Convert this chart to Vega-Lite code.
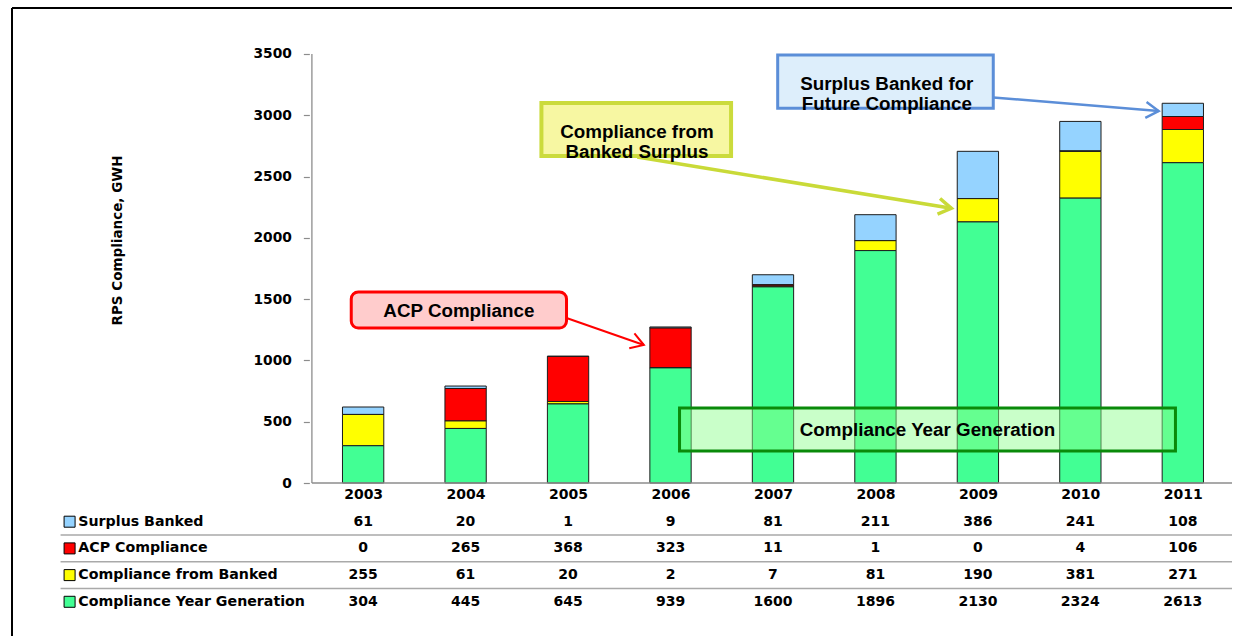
{
  "$schema": "https://vega.github.io/schema/vega-lite/v6.json",
  "width": 1230,
  "height": 628,
  "padding": {"left": 7, "top": 7, "right": 0, "bottom": 0},
  "background": "#ffffff",
  "config": {
    "view": {"stroke": null, "fill": null},
    "axis": {"grid": false, "domain": false, "ticks": false, "labels": false}
  },
  "data": {"values": [{}]},
  "datasets": {
    "compliance": [
      {"year": 2003, "series": "Surplus Banked", "gwh": 61},
      {"year": 2003, "series": "ACP Compliance", "gwh": 0},
      {"year": 2003, "series": "Compliance from Banked", "gwh": 255},
      {"year": 2003, "series": "Compliance Year Generation", "gwh": 304},
      {"year": 2004, "series": "Surplus Banked", "gwh": 20},
      {"year": 2004, "series": "ACP Compliance", "gwh": 265},
      {"year": 2004, "series": "Compliance from Banked", "gwh": 61},
      {"year": 2004, "series": "Compliance Year Generation", "gwh": 445},
      {"year": 2005, "series": "Surplus Banked", "gwh": 1},
      {"year": 2005, "series": "ACP Compliance", "gwh": 368},
      {"year": 2005, "series": "Compliance from Banked", "gwh": 20},
      {"year": 2005, "series": "Compliance Year Generation", "gwh": 645},
      {"year": 2006, "series": "Surplus Banked", "gwh": 9},
      {"year": 2006, "series": "ACP Compliance", "gwh": 323},
      {"year": 2006, "series": "Compliance from Banked", "gwh": 2},
      {"year": 2006, "series": "Compliance Year Generation", "gwh": 939},
      {"year": 2007, "series": "Surplus Banked", "gwh": 81},
      {"year": 2007, "series": "ACP Compliance", "gwh": 11},
      {"year": 2007, "series": "Compliance from Banked", "gwh": 7},
      {"year": 2007, "series": "Compliance Year Generation", "gwh": 1600},
      {"year": 2008, "series": "Surplus Banked", "gwh": 211},
      {"year": 2008, "series": "ACP Compliance", "gwh": 1},
      {"year": 2008, "series": "Compliance from Banked", "gwh": 81},
      {"year": 2008, "series": "Compliance Year Generation", "gwh": 1896},
      {"year": 2009, "series": "Surplus Banked", "gwh": 386},
      {"year": 2009, "series": "ACP Compliance", "gwh": 0},
      {"year": 2009, "series": "Compliance from Banked", "gwh": 190},
      {"year": 2009, "series": "Compliance Year Generation", "gwh": 2130},
      {"year": 2010, "series": "Surplus Banked", "gwh": 241},
      {"year": 2010, "series": "ACP Compliance", "gwh": 4},
      {"year": 2010, "series": "Compliance from Banked", "gwh": 381},
      {"year": 2010, "series": "Compliance Year Generation", "gwh": 2324},
      {"year": 2011, "series": "Surplus Banked", "gwh": 108},
      {"year": 2011, "series": "ACP Compliance", "gwh": 106},
      {"year": 2011, "series": "Compliance from Banked", "gwh": 271},
      {"year": 2011, "series": "Compliance Year Generation", "gwh": 2613}
    ]
  },
  "layer": [
    {
      "data": {"name": "compliance"},
      "transform": [{"window": [{"op": "row_number", "as": "table_row"}], "groupby": ["year"]}],
      "mark": {"type": "bar", "width": 41.3, "stroke": "#1c1c1c", "strokeWidth": 1},
      "encoding": {
        "x": {
          "field": "year", "type": "quantitative",
          "scale": {"domain": [1999.573, 2011.48], "nice": false, "zero": false},
          "axis": {
            "orient": "bottom", "offset": -153,
            "values": [2003, 2004, 2005, 2006, 2007, 2008, 2009, 2010, 2011], "format": "d",
            "domain": false, "ticks": false, "labels": true, "tickSize": 0, "grid": false, "labelFlush": false,
            "labelFont": "DejaVu Sans", "labelFontWeight": "bold", "labelFontSize": 14, "labelColor": "#000000", "labelPadding": 4,
            "title": null
          }
        },
        "y": {
          "field": "gwh", "type": "quantitative", "stack": "zero",
          "scale": {"domain": [-1248.25, 3875.29], "nice": false, "zero": false},
          "axis": {
            "orient": "left", "offset": -302.35,
            "values": [0, 500, 1000, 1500, 2000, 2500, 3000, 3500], "format": "d",
            "domain": false, "grid": false, "labels": true,
            "ticks": true, "tickSize": 6, "tickColor": "#8c8c8c", "tickWidth": 1.2,
            "labelFont": "DejaVu Sans", "labelFontWeight": "bold", "labelFontSize": 13.8, "labelColor": "#000000", "labelPadding": 12,
            "title": "RPS Compliance, GWH",
            "titleFont": "DejaVu Sans", "titleFontWeight": "bold", "titleFontSize": 13.5, "titleColor": "#000000",
            "titleX": -192.35, "titleY": 232, "titleAngle": -90, "titleAlign": "center", "titleBaseline": "middle"
          }
        },
        "color": {
          "field": "series", "type": "nominal",
          "scale": {
            "domain": ["Compliance Year Generation", "Compliance from Banked", "ACP Compliance", "Surplus Banked"],
            "range": ["#42FF94", "#FFFF00", "#FF0000", "#95D3FF"]
          },
          "legend": null
        },
        "order": {"field": "table_row", "type": "quantitative", "sort": "descending"}
      }
    },
    {
      "mark": {"type": "rule", "color": "#000000", "strokeWidth": 2},
      "encoding": {
        "x": {"datum": 1999.573, "type": "quantitative"},
        "x2": {"datum": 2011.48},
        "y": {"datum": 3875.29, "type": "quantitative"}
      }
    },
    {
      "mark": {"type": "rule", "color": "#000000", "strokeWidth": 2},
      "encoding": {
        "x": {"datum": 1999.573, "type": "quantitative"},
        "y": {"datum": -1248.25, "type": "quantitative"},
        "y2": {"datum": 3875.29}
      }
    },
    {
      "mark": {"type": "rule", "color": "#8c8c8c", "strokeWidth": 1.3},
      "encoding": {
        "x": {"datum": 2002.5, "type": "quantitative"},
        "y": {"datum": 0, "type": "quantitative"},
        "y2": {"datum": 3500}
      }
    },
    {
      "mark": {"type": "rule", "color": "#8c8c8c", "strokeWidth": 1.3},
      "encoding": {
        "x": {"datum": 2002.5, "type": "quantitative"},
        "x2": {"datum": 2011.48},
        "y": {"datum": 0, "type": "quantitative"}
      }
    },
    {
      "mark": {"type": "rect", "fill": "#8CFF8C", "fillOpacity": 0.47, "stroke": "#0A8A0A", "strokeWidth": 3},
      "encoding": {
        "x": {"datum": 2006.088, "type": "quantitative"},
        "x2": {"datum": 2010.928},
        "y": {"datum": 611.9, "type": "quantitative"},
        "y2": {"datum": 261.1}
      }
    },
    {
      "mark": {"type": "text", "text": "Compliance Year Generation", "font": "Liberation Sans", "fontWeight": "bold", "fontSize": 18.8, "color": "#000000", "align": "center", "baseline": "middle"},
      "encoding": {
        "x": {"datum": 2008.508, "type": "quantitative"},
        "y": {"datum": 432.4, "type": "quantitative"}
      }
    },
    {
      "mark": {"type": "rule", "color": "#FF0000", "strokeWidth": 2},
      "encoding": {
        "x": {"datum": 2004.985, "type": "quantitative"},
        "y": {"datum": 1346.2, "type": "quantitative"},
        "x2": {"datum": 2005.74},
        "y2": {"datum": 1125.9}
      }
    },
    {
      "mark": {"type": "point", "shape": "M-1,-0.62L0,0L-1,0.62", "size": 650, "angle": 19.1, "filled": false, "stroke": "#FF0000", "strokeWidth": 2, "opacity": 1},
      "encoding": {
        "x": {"datum": 2005.74, "type": "quantitative"},
        "y": {"datum": 1125.9, "type": "quantitative"}
      }
    },
    {
      "mark": {"type": "rect", "fill": "#FFCCCC", "stroke": "#FF0000", "strokeWidth": 3, "cornerRadius": 7},
      "encoding": {
        "x": {"datum": 2002.884, "type": "quantitative"},
        "x2": {"datum": 2004.985},
        "y": {"datum": 1558.3, "type": "quantitative"},
        "y2": {"datum": 1264.6}
      }
    },
    {
      "mark": {"type": "text", "text": "ACP Compliance", "font": "Liberation Sans", "fontWeight": "bold", "fontSize": 18.8, "color": "#000000", "align": "center", "baseline": "middle"},
      "encoding": {
        "x": {"datum": 2003.934, "type": "quantitative"},
        "y": {"datum": 1407.3, "type": "quantitative"}
      }
    },
    {
      "mark": {"type": "rule", "color": "#C9DA38", "strokeWidth": 3.5},
      "encoding": {
        "x": {"datum": 2005.675, "type": "quantitative"},
        "y": {"datum": 2659.7, "type": "quantitative"},
        "x2": {"datum": 2008.741},
        "y2": {"datum": 2241.1}
      }
    },
    {
      "mark": {"type": "point", "shape": "M-1,-0.62L0,0L-1,0.62", "size": 650, "angle": 9.2, "filled": false, "stroke": "#C9DA38", "strokeWidth": 3.5, "opacity": 1},
      "encoding": {
        "x": {"datum": 2008.741, "type": "quantitative"},
        "y": {"datum": 2241.1, "type": "quantitative"}
      }
    },
    {
      "mark": {"type": "rect", "fill": "#F7F7A2", "stroke": "#CBDB3C", "strokeWidth": 4},
      "encoding": {
        "x": {"datum": 2004.74, "type": "quantitative"},
        "x2": {"datum": 2006.591},
        "y": {"datum": 3100.2, "type": "quantitative"},
        "y2": {"datum": 2667.8}
      }
    },
    {
      "mark": {"type": "text", "text": "Compliance from\nBanked Surplus", "lineBreak": "\n", "lineHeight": 20, "font": "Liberation Sans", "fontWeight": "bold", "fontSize": 18.8, "color": "#000000", "align": "center", "baseline": "middle"},
      "encoding": {
        "x": {"datum": 2005.672, "type": "quantitative"},
        "y": {"datum": 2863.6, "type": "quantitative"}
      }
    },
    {
      "mark": {"type": "rule", "color": "#5B8ED8", "strokeWidth": 2.5},
      "encoding": {
        "x": {"datum": 2009.15, "type": "quantitative"},
        "y": {"datum": 3145.1, "type": "quantitative"},
        "x2": {"datum": 2010.764},
        "y2": {"datum": 3034.97}
      }
    },
    {
      "mark": {"type": "point", "shape": "M-1,-0.62L0,0L-1,0.62", "size": 650, "angle": 4.6, "filled": false, "stroke": "#5B8ED8", "strokeWidth": 2.5, "opacity": 1},
      "encoding": {
        "x": {"datum": 2010.764, "type": "quantitative"},
        "y": {"datum": 3034.97, "type": "quantitative"}
      }
    },
    {
      "mark": {"type": "rect", "fill": "#DDEEFB", "stroke": "#5B8ED8", "strokeWidth": 3},
      "encoding": {
        "x": {"datum": 2007.046, "type": "quantitative"},
        "x2": {"datum": 2009.15},
        "y": {"datum": 3491.8, "type": "quantitative"},
        "y2": {"datum": 3057.0}
      }
    },
    {
      "mark": {"type": "text", "text": "Surplus Banked for\nFuture Compliance", "lineBreak": "\n", "lineHeight": 20, "font": "Liberation Sans", "fontWeight": "bold", "fontSize": 18.8, "color": "#000000", "align": "center", "baseline": "middle"},
      "encoding": {
        "x": {"datum": 2008.111, "type": "quantitative"},
        "y": {"datum": 3259.3, "type": "quantitative"}
      }
    },
    {
      "mark": {"type": "rule", "color": "#A9A9A9", "strokeWidth": 1.5},
      "encoding": {
        "x": {"datum": 2000.047, "type": "quantitative"},
        "x2": {"datum": 2011.48},
        "y": {"datum": -424.2, "type": "quantitative"}
      }
    },
    {
      "mark": {"type": "rule", "color": "#A9A9A9", "strokeWidth": 1.5},
      "encoding": {
        "x": {"datum": 2000.047, "type": "quantitative"},
        "x2": {"datum": 2011.48},
        "y": {"datum": -642.1, "type": "quantitative"}
      }
    },
    {
      "mark": {"type": "rule", "color": "#A9A9A9", "strokeWidth": 1.5},
      "encoding": {
        "x": {"datum": 2000.047, "type": "quantitative"},
        "x2": {"datum": 2011.48},
        "y": {"datum": -859.9, "type": "quantitative"}
      }
    },
    {
      "data": {"name": "compliance"},
      "transform": [{"filter": {"field": "series", "equal": "Surplus Banked"}}],
      "mark": {"type": "text", "font": "DejaVu Sans", "fontWeight": "bold", "fontSize": 14, "color": "#000000", "align": "center", "baseline": "middle"},
      "encoding": {
        "x": {"field": "year", "type": "quantitative"},
        "y": {"datum": -315.7, "type": "quantitative"},
        "text": {"field": "gwh", "type": "quantitative", "format": "d"}
      }
    },
    {
      "data": {"name": "compliance"},
      "transform": [{"filter": {"field": "series", "equal": "ACP Compliance"}}],
      "mark": {"type": "text", "font": "DejaVu Sans", "fontWeight": "bold", "fontSize": 14, "color": "#000000", "align": "center", "baseline": "middle"},
      "encoding": {
        "x": {"field": "year", "type": "quantitative"},
        "y": {"datum": -533.6, "type": "quantitative"},
        "text": {"field": "gwh", "type": "quantitative", "format": "d"}
      }
    },
    {
      "data": {"name": "compliance"},
      "transform": [{"filter": {"field": "series", "equal": "Compliance from Banked"}}],
      "mark": {"type": "text", "font": "DejaVu Sans", "fontWeight": "bold", "fontSize": 14, "color": "#000000", "align": "center", "baseline": "middle"},
      "encoding": {
        "x": {"field": "year", "type": "quantitative"},
        "y": {"datum": -751.4, "type": "quantitative"},
        "text": {"field": "gwh", "type": "quantitative", "format": "d"}
      }
    },
    {
      "data": {"name": "compliance"},
      "transform": [{"filter": {"field": "series", "equal": "Compliance Year Generation"}}],
      "mark": {"type": "text", "font": "DejaVu Sans", "fontWeight": "bold", "fontSize": 14, "color": "#000000", "align": "center", "baseline": "middle"},
      "encoding": {
        "x": {"field": "year", "type": "quantitative"},
        "y": {"datum": -969.2, "type": "quantitative"},
        "text": {"field": "gwh", "type": "quantitative", "format": "d"}
      }
    },
    {
      "mark": {"type": "square", "size": 121, "filled": true, "fill": "#95D3FF", "stroke": "#000000", "strokeWidth": 1, "opacity": 1},
      "encoding": {
        "x": {"datum": 2000.135, "type": "quantitative"},
        "y": {"datum": -315.7, "type": "quantitative"}
      }
    },
    {
      "mark": {"type": "square", "size": 121, "filled": true, "fill": "#FF0000", "stroke": "#000000", "strokeWidth": 1, "opacity": 1},
      "encoding": {
        "x": {"datum": 2000.135, "type": "quantitative"},
        "y": {"datum": -533.6, "type": "quantitative"}
      }
    },
    {
      "mark": {"type": "square", "size": 121, "filled": true, "fill": "#FFFF00", "stroke": "#000000", "strokeWidth": 1, "opacity": 1},
      "encoding": {
        "x": {"datum": 2000.135, "type": "quantitative"},
        "y": {"datum": -751.4, "type": "quantitative"}
      }
    },
    {
      "mark": {"type": "square", "size": 121, "filled": true, "fill": "#42FF94", "stroke": "#000000", "strokeWidth": 1, "opacity": 1},
      "encoding": {
        "x": {"datum": 2000.135, "type": "quantitative"},
        "y": {"datum": -969.2, "type": "quantitative"}
      }
    },
    {
      "mark": {"type": "text", "text": "Surplus Banked", "font": "DejaVu Sans", "fontWeight": "bold", "fontSize": 14.2, "color": "#000000", "align": "left", "baseline": "middle"},
      "encoding": {
        "x": {"datum": 2000.22, "type": "quantitative"},
        "y": {"datum": -315.7, "type": "quantitative"}
      }
    },
    {
      "mark": {"type": "text", "text": "ACP Compliance", "font": "DejaVu Sans", "fontWeight": "bold", "fontSize": 14.2, "color": "#000000", "align": "left", "baseline": "middle"},
      "encoding": {
        "x": {"datum": 2000.22, "type": "quantitative"},
        "y": {"datum": -533.6, "type": "quantitative"}
      }
    },
    {
      "mark": {"type": "text", "text": "Compliance from Banked", "font": "DejaVu Sans", "fontWeight": "bold", "fontSize": 14.2, "color": "#000000", "align": "left", "baseline": "middle"},
      "encoding": {
        "x": {"datum": 2000.22, "type": "quantitative"},
        "y": {"datum": -751.4, "type": "quantitative"}
      }
    },
    {
      "mark": {"type": "text", "text": "Compliance Year Generation", "font": "DejaVu Sans", "fontWeight": "bold", "fontSize": 14.2, "color": "#000000", "align": "left", "baseline": "middle"},
      "encoding": {
        "x": {"datum": 2000.22, "type": "quantitative"},
        "y": {"datum": -969.2, "type": "quantitative"}
      }
    }
  ]
}
